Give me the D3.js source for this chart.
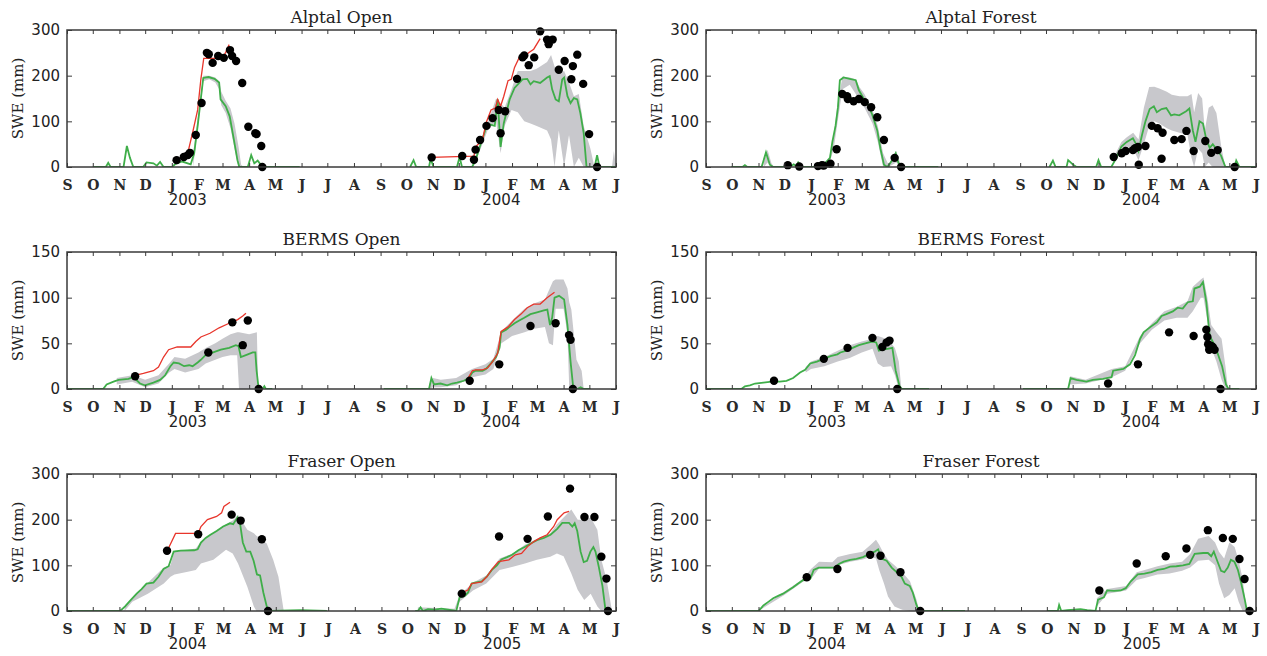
<!DOCTYPE html>
<html>
<head>
<meta charset="utf-8">
<script src="https://cdn.jsdelivr.net/npm/d3@7/dist/d3.min.js"></script>
<style>
  body { margin: 0; background: #fff; }
  svg { display: block; }
  .title { font-family: "DejaVu Serif", serif; font-size: 17px; fill: #222; text-anchor: middle; }
  .ylab { font-family: "DejaVu Serif", serif; font-size: 15px; fill: #222; text-anchor: middle; }
  .year { font-family: "DejaVu Sans", sans-serif; font-size: 15px; fill: #222; text-anchor: middle; }
  .xaxis text { font-family: "DejaVu Serif", serif; font-size: 14px; font-weight: bold; fill: #2a2a2a; }
  .yaxis text { font-family: "DejaVu Sans", sans-serif; font-size: 15px; fill: #222; }
  .tick line { stroke: #3a3a3a; }
</style>
</head>
<body>
<svg width="1267" height="656"></svg>
<script>
// all x values are months since 1 September of the first winter
// [9, null] style entries split the two winters

var monthLetters = ["J","F","M","A","M","J","J","A","S","O","N","D"];

// ---- Alptal Open
var alptalOpenSwe = [[1.0,0],[1.49,0],[1.58,9],[1.67,0],[2.16,0],[2.29,46],[2.41,20],[2.54,0],[2.92,0],[3.05,10],[3.31,8],[3.44,3],[3.56,11],[3.69,0],[4.01,0],[4.14,7],[4.39,12],[4.71,6],[4.84,30],[4.97,90],[5.10,150],[5.20,195],[5.42,197],[5.67,193],[5.86,185],[5.92,148],[6.12,133],[6.27,111],[6.43,59],[6.56,15],[6.63,0],[6.95,0],[7.08,26],[7.20,8],[7.33,14],[7.52,0],[8.93,0],[9,null],
  [13.14,0],[13.27,15],[13.37,0],[13.85,0],[13.91,18],[14.02,0],[14.93,0],[15.03,22],[15.12,0],[15.5,0],[15.63,15],[15.82,50],[16.02,85],[16.18,93],[16.35,90],[16.46,148],[16.57,44],[16.69,96],[16.91,148],[17.1,173],[17.29,184],[17.42,192],[17.61,193],[17.74,181],[17.87,188],[18.12,184],[18.38,196],[18.48,199],[18.57,170],[18.70,148],[18.82,144],[18.95,192],[19.02,196],[19.15,155],[19.27,140],[19.40,151],[19.53,148],[19.65,118],[19.78,74],[19.89,0],[20.2,0],[20.29,26],[20.38,0],[21,0]];
var alptalOpenBand = [[4.8,0,30],[5.1,140,160],[5.2,188,200],[5.45,192,200],[5.7,185,196],[5.86,170,188],[5.95,135,165],[6.12,118,145],[6.3,85,128],[6.45,40,95],[6.6,0,45],[6.7,0,5],[6.8,0,0],[9,null,null],
  [15.55,0,5],[15.82,40,55],[16.08,80,95],[16.4,100,150],[16.57,30,140],[16.72,90,130],[16.98,125,170],[17.23,120,210],[17.49,100,210],[17.74,95,210],[17.99,90,215],[18.38,80,230],[18.53,60,245],[18.66,0,220],[18.82,80,205],[19.02,0,210],[19.21,70,185],[19.4,0,155],[19.59,20,160],[19.78,0,90],[20.04,0,40],[20.19,0,0],[20.85,0,0],[20.92,0,35],[21,0,0]];
var alptalOpenRed = [[4.14,15],[4.58,26],[4.78,75],[4.97,125],[5.10,192],[5.22,238],[5.99,238],[6.12,251],[6.25,268],[9,null],
  [13.91,21],[15.57,24],[15.63,44],[15.89,59],[16.02,96],[16.21,125],[16.37,129],[16.46,148],[16.57,133],[16.69,155],[16.85,189],[16.97,192],[17.10,218],[17.29,240],[17.49,240],[17.68,251],[17.87,258],[18.12,281]];
var alptalOpenObs = [[4.18,15],[4.45,22],[4.6,26],[4.68,31],[4.9,70],[5.13,140],[5.35,250],[5.43,247],[5.59,228],[5.82,243],[6.05,239],[6.28,256],[6.36,243],[6.51,232],[6.74,184],[6.97,88],[7.24,74],[7.29,72],[7.47,46],[7.51,0],
  [13.95,21],[15.13,24],[15.57,16],[15.63,38],[15.80,59],[16.04,90],[16.27,107],[16.50,125],[16.57,74],[16.74,122],[17.20,193],[17.42,240],[17.49,244],[17.67,223],[17.89,240],[18.12,297],[18.38,279],[18.44,269],[18.59,279],[18.82,213],[19.04,232],[19.30,192],[19.36,221],[19.53,246],[19.76,182],[19.99,72],[20.29,0]];

// ---- Alptal Forest
var alptalForestSwe = [[0.98,0],[1.4,0],[1.49,4],[1.58,0],[2.12,0],[2.29,32],[2.44,5],[2.57,0],[3.21,0],[3.35,6],[3.45,2],[3.52,10],[3.65,0],[4.16,0],[4.48,5],[4.71,20],[4.80,55],[4.92,90],[5.01,130],[5.09,190],[5.24,196],[5.50,193],[5.75,190],[5.88,168],[6.07,150],[6.20,140],[6.39,115],[6.58,80],[6.70,40],[6.83,5],[6.96,0],[7.15,15],[7.28,30],[7.38,10],[7.47,0],[8.9,0],[9,null],
  [13.13,0],[13.26,14],[13.36,0],[13.77,0],[13.83,15],[14.02,5],[14.15,0],[14.91,0],[15.0,15],[15.1,0],[15.48,0],[15.67,20],[15.86,45],[16.06,55],[16.29,63],[16.41,50],[16.50,35],[16.63,70],[16.76,100],[16.92,127],[17.08,133],[17.20,120],[17.39,127],[17.58,129],[17.77,113],[17.90,115],[18.09,113],[18.35,122],[18.47,128],[18.60,80],[18.70,55],[18.85,100],[18.98,95],[19.11,60],[19.24,42],[19.36,50],[19.49,40],[19.68,25],[19.85,0],[20.2,0],[20.26,14],[20.38,0],[21,0]];
var alptalForestBand = [[2.2,0,10],[2.35,10,38],[2.5,0,8],[2.6,0,0],[9,null,null],[4.7,10,25],[4.85,40,70],[5.0,100,140],[5.2,170,198],[5.5,180,196],[5.75,160,192],[5.9,145,175],[6.1,130,160],[6.4,95,125],[6.6,55,90],[6.8,0,30],[7.0,0,5],[7.3,10,35],[7.5,0,0],[9,null,null],
  [15.6,10,25],[15.86,35,55],[16.06,45,65],[16.3,40,75],[16.5,15,60],[16.7,50,130],[16.9,90,175],[17.1,100,176],[17.3,95,172],[17.6,85,165],[17.8,80,158],[18.1,75,155],[18.4,70,155],[18.55,20,160],[18.65,0,120],[18.8,40,162],[18.95,30,150],[19.05,0,80],[19.2,10,130],[19.35,0,135],[19.5,0,118],[19.7,0,40],[19.85,0,0]];
var alptalForestObs = [[3.13,4],[3.56,1],[4.26,2],[4.41,4],[4.48,3],[4.73,7],[4.96,39],[5.19,160],[5.39,155],[5.42,149],[5.66,144],[5.88,149],[6.11,142],[6.35,131],[6.58,109],[6.83,59],[7.24,20],[7.49,0],
  [15.57,22],[15.87,30],[16.02,35],[16.29,37],[16.37,41],[16.48,44],[16.51,5],[16.76,46],[17.0,90],[17.23,85],[17.39,18],[17.43,75],[17.90,59],[18.18,61],[18.36,79],[18.63,35],[19.07,57],[19.30,31],[19.55,37],[20.20,0]];

// ---- BERMS Open
var bermsOpenSwe = [[0,0],[1.39,0],[1.52,5],[1.78,8],[1.97,10],[2.35,11],[2.54,13],[2.80,6],[2.99,4],[3.31,7],[3.56,10],[3.75,15],[3.95,25],[4.07,29],[4.27,28],[4.46,25],[4.65,26],[4.78,25],[4.97,29],[5.10,32],[5.29,37],[5.61,40],[5.93,43],[6.25,45],[6.50,48],[6.60,47],[6.69,35],[6.95,38],[7.14,40],[7.24,40],[7.29,20],[7.37,0],[7.52,0],[7.59,3],[7.65,0],[7.9,0],[9,null],
  [12.12,0],[13.85,0],[13.94,12],[14.04,5],[14.29,6],[14.55,4],[14.74,6],[14.93,7],[15.19,9],[15.38,12],[15.51,18],[15.63,20],[15.89,20],[16.02,22],[16.21,28],[16.40,35],[16.53,45],[16.59,62],[16.78,65],[16.91,68],[17.10,72],[17.29,75],[17.49,78],[17.74,82],[18.0,84],[18.26,86],[18.39,87],[18.49,70],[18.57,78],[18.66,100],[18.83,102],[19.02,98],[19.15,70],[19.27,30],[19.38,0],[19.53,0],[19.66,2],[19.78,0],[20.04,0]];
var bermsOpenBand = [[1.9,5,12],[2.5,8,15],[3.0,2,10],[3.5,6,15],[3.9,18,28],[4.1,22,35],[4.5,18,33],[5.0,22,40],[5.3,28,45],[5.7,32,50],[6.0,35,55],[6.3,37,60],[6.55,37,62],[6.62,0,62],[7.0,0,60],[7.3,0,62],[7.35,0,0],[9,null,null],
  [13.85,0,5],[14.0,2,12],[14.3,2,10],[14.9,4,12],[15.5,13,22],[16.0,16,27],[16.3,22,33],[16.6,50,63],[17.0,58,75],[17.5,62,88],[17.9,66,94],[18.3,68,98],[18.45,50,108],[18.6,48,118],[18.7,88,120],[19.0,88,120],[19.15,60,110],[19.22,0,95],[19.3,0,87],[19.5,0,32],[19.7,0,20],[19.78,0,0]];
var bermsOpenRed = [[2.61,15],[2.93,17],[3.31,20],[3.50,24],[3.69,35],[3.88,43],[4.20,46],[4.71,46],[4.90,52],[5.10,57],[5.48,61],[5.86,67],[6.25,72],[6.57,76],[6.76,80],[6.88,83],[9,null],
  [15.31,10],[15.51,20],[15.63,21],[15.89,21],[16.08,23],[16.27,30],[16.46,39],[16.59,63],[16.85,68],[17.10,76],[17.36,82],[17.61,89],[17.87,93],[18.12,93],[18.38,100],[18.66,106]];
var bermsOpenObs = [[2.61,14],[5.41,40],[6.37,73],[6.76,48],[6.95,75],[7.37,0],[15.41,9],[16.52,27],[17.74,69],[18.70,72],[19.21,59],[19.27,54],[19.36,0]];

// ---- BERMS Forest
var bermsForestSwe = [[0,0],[1.36,0],[1.49,3],[1.68,4],[1.87,6],[2.19,7],[2.51,8],[2.82,8],[3.08,9],[3.33,12],[3.59,18],[3.78,21],[3.97,28],[4.22,30],[4.48,33],[4.73,36],[4.99,38],[5.11,40],[5.37,42],[5.62,45],[5.88,48],[6.13,50],[6.39,52],[6.54,51],[6.64,42],[6.77,43],[6.96,44],[7.15,45],[7.28,20],[7.43,3],[7.53,0],[8.55,0],[9,null],
  [12.11,0],[13.83,0],[13.92,12],[14.15,10],[14.53,8],[14.78,10],[15.17,11],[15.49,13],[15.55,20],[15.93,22],[16.18,27],[16.37,37],[16.56,55],[16.69,62],[16.95,68],[17.20,73],[17.39,80],[17.58,82],[17.84,85],[18.03,89],[18.22,88],[18.41,95],[18.60,96],[18.66,110],[18.86,112],[18.98,117],[19.11,95],[19.24,58],[19.43,48],[19.56,38],[19.72,25],[19.87,5],[19.97,0],[20.38,0]];
var bermsForestBand = [[3.8,18,24],[4.0,22,30],[4.5,25,35],[5.0,30,42],[5.5,34,48],[6.0,40,52],[6.4,44,55],[6.6,28,58],[6.8,24,56],[7.1,25,50],[7.25,15,45],[7.4,0,30],[7.5,0,0],[9,null,null],
  [13.9,5,14],[14.5,6,10],[15.5,13,22],[16.0,20,25],[16.56,50,58],[17.0,65,72],[17.5,75,85],[18.0,78,90],[18.4,78,96],[18.6,85,112],[18.9,100,120],[19.0,100,122],[19.15,75,100],[19.3,45,70],[19.5,30,62],[19.7,10,55],[19.85,0,25],[19.95,0,0]];
var bermsForestObs = [[2.60,9],[4.48,33],[5.41,45],[6.40,56],[6.77,46],[6.93,51],[7.04,53],[7.34,0],
  [15.36,6],[16.48,27],[17.69,62],[18.63,58],[19.11,65],[19.15,57],[19.18,49],[19.22,43],[19.30,47],[19.36,46],[19.43,43],[19.66,0]];

// ---- Fraser Open
var fraserOpenSwe = [[0,0],[2.03,0],[2.22,10],[2.41,22],[2.67,38],[2.86,48],[3.05,60],[3.31,62],[3.50,75],[3.69,92],[3.88,98],[4.07,130],[4.33,132],[4.84,133],[4.97,135],[5.10,150],[5.29,160],[5.48,167],[5.73,175],[5.99,185],[6.25,192],[6.37,190],[6.53,205],[6.63,190],[6.73,150],[6.86,130],[7.01,130],[7.14,110],[7.27,80],[7.39,78],[7.52,40],[7.65,10],[7.78,0],[8.93,2],[9.95,0],[10,null],
  [13.3,0],[13.40,0],[13.50,8],[13.59,0],[13.78,4],[14.04,3],[14.29,5],[14.55,3],[14.87,0],[15.0,30],[15.19,33],[15.31,40],[15.45,60],[15.57,62],[15.83,65],[16.02,75],[16.21,90],[16.40,100],[16.57,113],[16.78,118],[16.97,123],[17.23,133],[17.49,140],[17.74,148],[18.0,155],[18.26,160],[18.51,167],[18.76,180],[18.95,193],[19.21,193],[19.34,185],[19.43,192],[19.53,175],[19.66,130],[19.78,107],[19.91,110],[20.04,130],[20.15,140],[20.23,130],[20.36,95],[20.49,55],[20.61,0]];
var fraserOpenBand = [[2.2,0,10],[2.5,20,28],[3.1,38,62],[3.7,60,95],[3.95,75,100],[4.1,80,132],[4.6,86,134],[4.9,90,137],[5.1,104,152],[5.6,112,172],[6.1,134,190],[6.35,126,198],[6.55,104,211],[6.9,53,178],[7.15,10,170],[7.25,0,165],[7.65,0,148],[7.9,0,112],[8.1,0,75],[8.3,0,0],[9,null,null],
  [13.4,0,8],[14.8,0,5],[15.0,20,35],[15.5,45,62],[16.0,60,78],[16.5,90,115],[17.0,97,126],[17.5,104,145],[18.0,112,158],[18.5,119,170],[18.75,126,190],[19.0,120,205],[19.3,82,222],[19.55,46,200],[19.8,24,200],[20.05,38,205],[20.3,10,178],[20.45,0,112],[20.65,0,68],[20.85,0,0]];
var fraserOpenRed = [[3.82,131],[4.14,170],[4.99,170],[5.10,185],[5.36,200],[5.73,207],[5.93,215],[6.02,229],[6.25,238],[9,null],
  [15.0,38],[15.31,46],[15.45,60],[15.83,64],[16.02,75],[16.21,91],[16.46,108],[16.85,112],[17.10,123],[17.36,126],[17.61,141],[17.87,152],[18.12,160],[18.38,167],[18.63,185],[18.76,200],[19.02,215],[19.21,218]];
var fraserOpenObs = [[3.82,132],[4.99,168],[6.31,211],[6.65,198],[7.46,157],[7.70,0],
  [15.08,38],[16.48,163],[17.61,158],[18.41,207],[19.25,268],[19.81,206],[20.19,206],[20.45,119],[20.64,71],[20.70,0]];

// ---- Fraser Forest
var fraserForestSwe = [[0,0],[2.0,0],[2.19,12],[2.38,20],[2.57,28],[2.76,33],[2.95,38],[3.14,45],[3.33,52],[3.52,60],[3.71,68],[3.97,70],[4.10,90],[4.29,95],[4.86,95],[5.05,103],[5.24,108],[5.50,112],[5.75,114],[6.01,118],[6.26,125],[6.45,130],[6.58,135],[6.70,115],[6.90,110],[7.09,95],[7.28,85],[7.47,75],[7.60,60],[7.79,55],[7.91,40],[8.04,15],[8.14,0],[9.9,0],[10,null],
  [13.0,0],[13.41,0],[13.46,13],[13.54,0],[13.77,2],[14.02,3],[14.27,4],[14.53,2],[14.85,0],[14.95,25],[15.17,30],[15.29,45],[15.55,44],[15.80,45],[15.99,50],[16.18,65],[16.44,80],[16.69,82],[16.95,85],[17.20,90],[17.46,92],[17.72,97],[17.98,98],[18.23,100],[18.47,103],[18.67,125],[18.99,127],[19.17,127],[19.30,120],[19.40,130],[19.53,110],[19.68,88],[19.81,85],[19.94,95],[20.06,112],[20.19,108],[20.32,90],[20.45,60],[20.58,25],[20.66,0]];
var fraserForestBand = [[2.0,0,2],[3.0,35,42],[3.7,64,70],[4.0,70,92],[4.3,93,108],[4.8,93,107],[5.0,100,118],[5.5,108,125],[6.0,113,130],[6.3,118,145],[6.5,115,156],[6.62,90,145],[6.8,60,125],[6.95,32,112],[7.2,10,100],[7.5,3,85],[7.8,0,65],[8.05,0,25],[8.15,0,0],[9,null,null],
  [14.9,10,28],[15.3,38,48],[16.0,45,55],[16.4,68,85],[16.7,72,90],[17.2,80,98],[17.7,82,104],[18.2,88,108],[18.5,95,125],[18.8,110,158],[19.2,112,164],[19.45,100,150],[19.6,60,130],[19.8,28,115],[20.0,35,150],[20.2,50,140],[20.35,20,110],[20.5,0,70],[20.65,0,0]];
var fraserForestObs = [[3.84,74],[4.99,92],[6.28,123],[6.67,121],[7.43,85],[8.19,0],
  [15.0,45],[16.40,104],[17.54,120],[18.36,137],[19.17,177],[19.75,160],[20.13,158],[20.38,114],[20.57,70],[20.76,0]];

var panels = [
  {title: "Alptal Open",   start: 2002, yMax: 300, yTicks: [0,100,200,300], swe: alptalOpenSwe,   band: alptalOpenBand,   red: alptalOpenRed,  obs: alptalOpenObs},
  {title: "Alptal Forest", start: 2002, yMax: 300, yTicks: [0,100,200,300], swe: alptalForestSwe, band: alptalForestBand, red: null,           obs: alptalForestObs},
  {title: "BERMS Open",    start: 2002, yMax: 150, yTicks: [0,50,100,150],  swe: bermsOpenSwe,    band: bermsOpenBand,    red: bermsOpenRed,   obs: bermsOpenObs},
  {title: "BERMS Forest",  start: 2002, yMax: 150, yTicks: [0,50,100,150],  swe: bermsForestSwe,  band: bermsForestBand,  red: null,           obs: bermsForestObs},
  {title: "Fraser Open",   start: 2003, yMax: 300, yTicks: [0,100,200,300], swe: fraserOpenSwe,   band: fraserOpenBand,   red: fraserOpenRed,  obs: fraserOpenObs},
  {title: "Fraser Forest", start: 2003, yMax: 300, yTicks: [0,100,200,300], swe: fraserForestSwe, band: fraserForestBand, red: null,           obs: fraserForestObs}
];

var svg = d3.select("svg");
var colX = [67, 706], colW = [549, 550];
var rowY = [30, 252, 474], plotH = 137;

// month offset -> Date
function toDate(y0, m) {
  var base = new Date(y0, 8, 1), k = Math.floor(m);
  var a = d3.timeMonth.offset(base, k), b = d3.timeMonth.offset(base, k + 1);
  return new Date(+a + (m - k) * (b - a));
}

panels.forEach(function(p, i) {
  var col = i % 2, row = Math.floor(i / 2);
  var w = colW[col];
  var g = svg.append("g").attr("transform", "translate(" + colX[col] + "," + rowY[row] + ")");

  var x = d3.scaleTime()
      .domain([new Date(p.start, 8, 1), new Date(p.start + 2, 5, 1)])
      .range([0, w]);
  var y = d3.scaleLinear().domain([0, p.yMax]).range([plotH, 0]);

  g.append("clipPath").attr("id", "clip" + i)
    .append("rect").attr("x", 0).attr("y", -6).attr("width", w).attr("height", plotH + 6);

  var plot = g.append("g").attr("clip-path", "url(#clip" + i + ")");

  var area = d3.area()
      .defined(function(d) { return d[1] != null; })
      .x(function(d) { return x(toDate(p.start, d[0])); })
      .y0(function(d) { return y(d[1]); })
      .y1(function(d) { return y(d[2]); });

  var line = d3.line()
      .defined(function(d) { return d[1] != null; })
      .x(function(d) { return x(toDate(p.start, d[0])); })
      .y(function(d) { return y(d[1]); });

  plot.append("path").datum(p.band)
      .attr("d", area)
      .attr("fill", "#c8c8cc");

  plot.append("path").datum(p.swe)
      .attr("d", line)
      .attr("fill", "none")
      .attr("stroke", "#3fae49")
      .attr("stroke-width", 1.8);

  if (p.red) {
    plot.append("path").datum(p.red)
        .attr("d", line)
        .attr("fill", "none")
        .attr("stroke", "#e8352b")
        .attr("stroke-width", 1.3);
  }

  g.selectAll("circle.obs").data(p.obs)
    .enter().append("circle")
      .attr("class", "obs")
      .attr("cx", function(d) { return x(toDate(p.start, d[0])); })
      .attr("cy", function(d) { return y(d[1]); })
      .attr("r", 4.2)
      .attr("fill", "#000");

  // axes
  var months = d3.timeMonth.every(1);
  g.append("g").attr("class", "xaxis")
      .attr("transform", "translate(0," + plotH + ")")
      .call(d3.axisBottom(x).ticks(months)
        .tickFormat(function(d) { return monthLetters[d.getMonth()]; })
        .tickSizeInner(-4).tickSizeOuter(0).tickPadding(13))
      .call(function(s) { s.select(".domain").remove(); });

  g.append("g")
      .call(d3.axisTop(x).ticks(months).tickFormat("").tickSizeInner(-4).tickSizeOuter(0))
      .call(function(s) { s.select(".domain").remove(); });

  g.append("g").attr("class", "yaxis")
      .call(d3.axisLeft(y).tickValues(p.yTicks).tickSizeInner(-5).tickSizeOuter(0).tickPadding(7))
      .call(function(s) { s.select(".domain").remove(); });

  g.append("g").attr("transform", "translate(" + w + ",0)")
      .call(d3.axisRight(y).tickValues(p.yTicks).tickFormat("").tickSizeInner(-5).tickSizeOuter(0))
      .call(function(s) { s.select(".domain").remove(); });

  g.append("rect")
      .attr("width", w).attr("height", plotH)
      .attr("fill", "none")
      .attr("stroke", "#3a3a3a")
      .attr("stroke-width", 1.5);

  // labels
  g.append("text").attr("class", "title")
      .attr("x", w / 2).attr("y", -7)
      .text(p.title);

  g.append("text").attr("class", "ylab")
      .attr("transform", "translate(-49," + (plotH / 2) + ") rotate(-90)")
      .attr("dy", "0.35em")
      .text("SWE (mm)");

  [p.start + 1, p.start + 2].forEach(function(yr, k) {
    g.append("text").attr("class", "year")
        .attr("x", x(toDate(p.start, 4.6 + 12 * k)))
        .attr("y", plotH + 38)
        .text(yr);
  });
});
</script>
</body>
</html>
